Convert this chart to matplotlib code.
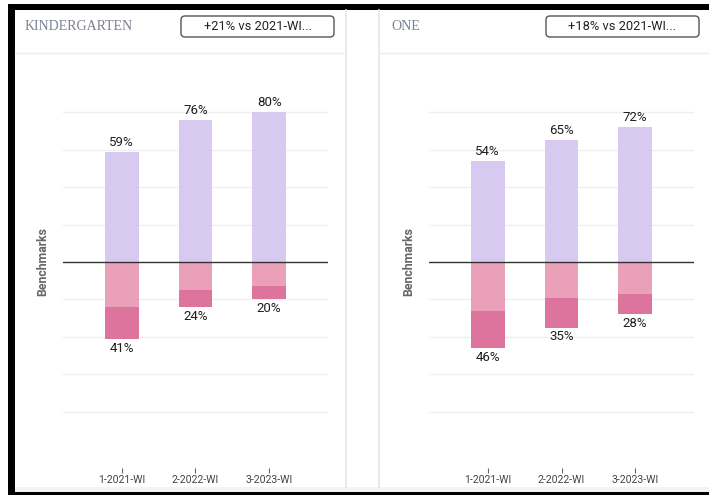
import matplotlib.pyplot as plt
from matplotlib.patches import Rectangle, FancyBboxPatch
from matplotlib.lines import Line2D
from matplotlib.transforms import Affine2D
import numpy as np

W, H = 709, 495

grades = ['KINDERGARTEN', 'ONE']
change_labels = ['+21% vs 2021-WI...', '+18% vs 2021-WI...']
periods = ['1-2021-WI', '2-2022-WI', '3-2023-WI']
at_or_above = [[59, 76, 80], [54, 65, 72]]
below = [[24, 15, 13], [26, 19, 17]]
well_below = [[17, 9, 7], [20, 16, 11]]

LAVENDER = '#d8c9f0'
PINK = '#eaa0b8'
DARK_PINK = '#dd749d'

plt.rcParams['font.family'] = ['Roboto', 'DejaVu Sans']

fig = plt.figure(figsize=(W / 100, H / 100), dpi=100)
# pixel coordinates measured from the top-left corner
px = Affine2D().scale(1 / W, -1 / H).translate(0, 1) + fig.transFigure


def rect(x0, y0, x1, y1, color):
    fig.add_artist(Rectangle((x0, y0), x1 - x0, y1 - y0, transform=px,
                             facecolor=color, edgecolor='none', zorder=0))


def hline(x0, x1, y, color, lw=1.0):
    fig.add_artist(Line2D([x0, x1], [y, y], transform=px, color=color, lw=lw, zorder=1))


def vline(x, y0, y1, color, lw=1.0):
    fig.add_artist(Line2D([x, x], [y0, y1], transform=px, color=color, lw=lw, zorder=1))


# frame around the dashboard
rect(8, 4, 15, 495, 'black')
rect(8, 4, W, 10, 'black')
rect(15, 487, W, 492, '#f3f3f3')
rect(8, 492, W, 495, 'black')

vline(346, 10, 487, '#e6e6e6', 1.2)
vline(379, 10, 487, '#e6e6e6', 1.2)
hline(15, 346, 53, '#ececec', 1.0)
hline(379, W, 53, '#ececec', 1.0)

panels = [
    dict(ax_left=63, title_x=25, box_x=181),
    dict(ax_left=429, title_x=391, box_x=546),
]
ax_w, ax_top, ax_bot = 265, 56, 468

x = np.arange(len(periods))
for k, p in enumerate(panels):
    ax = fig.add_axes([p['ax_left'] / W, 1 - ax_bot / H, ax_w / W, (ax_bot - ax_top) / H])
    ax.patch.set_alpha(0)

    top = np.array(at_or_above[k])
    b1 = np.array(below[k])
    b2 = np.array(well_below[k])

    ax.bar(x, top, width=0.46, color=LAVENDER, linewidth=0, zorder=2)
    ax.bar(x, -b1, width=0.46, color=PINK, linewidth=0, zorder=2)
    ax.bar(x, -b2, bottom=-b1, width=0.46, color=DARK_PINK, linewidth=0, zorder=2)
    ax.axhline(0, color='#333333', lw=1.0, zorder=3)

    for i in x:
        ax.annotate(f'{top[i]}%', (i, top[i]), xytext=(0, 2), textcoords='offset points',
                    ha='center', va='bottom', fontsize=9.5, color='#1e1e1e')
        total = b1[i] + b2[i]
        ax.annotate(f'{total}%', (i, -total), xytext=(0, -2), textcoords='offset points',
                    ha='center', va='top', fontsize=9.5, color='#1e1e1e')

    ax.set_xlim(-0.797, 2.797)
    ax.set_ylim(-110, 110)
    ax.set_yticks([-80, -60, -40, -20, 20, 40, 60, 80])
    ax.set_yticklabels([])
    ax.tick_params(axis='y', length=0)
    ax.grid(axis='y', color='#efefef', lw=1.0, zorder=0)
    ax.set_xticks(x)
    ax.set_xticklabels(periods, fontsize=7.6, color='#444444')
    ax.tick_params(axis='x', length=3.5, width=0.8, color='#666666', pad=1.5)
    for s in ax.spines.values():
        s.set_visible(False)

    ax.text(-0.075, 0.5, 'Benchmarks', transform=ax.transAxes, rotation=90,
            ha='center', va='center', fontsize=8.8, weight='bold', color='#666666')

    fig.text(p['title_x'], 27, grades[k], transform=px, ha='left', va='center',
             family='Liberation Serif', fontsize=10, color='#7b8092')
    fig.add_artist(FancyBboxPatch((p['box_x'], 16), 153, 21, transform=px,
                                  boxstyle='round,pad=0,rounding_size=4',
                                  facecolor='white', edgecolor='#555555', lw=1.0))
    fig.text(p['box_x'] + 76.5, 26.5, change_labels[k], transform=px, ha='center',
             va='center', fontsize=9.3, color='#222222')

fig.savefig('out.png', dpi=100, facecolor='white')
